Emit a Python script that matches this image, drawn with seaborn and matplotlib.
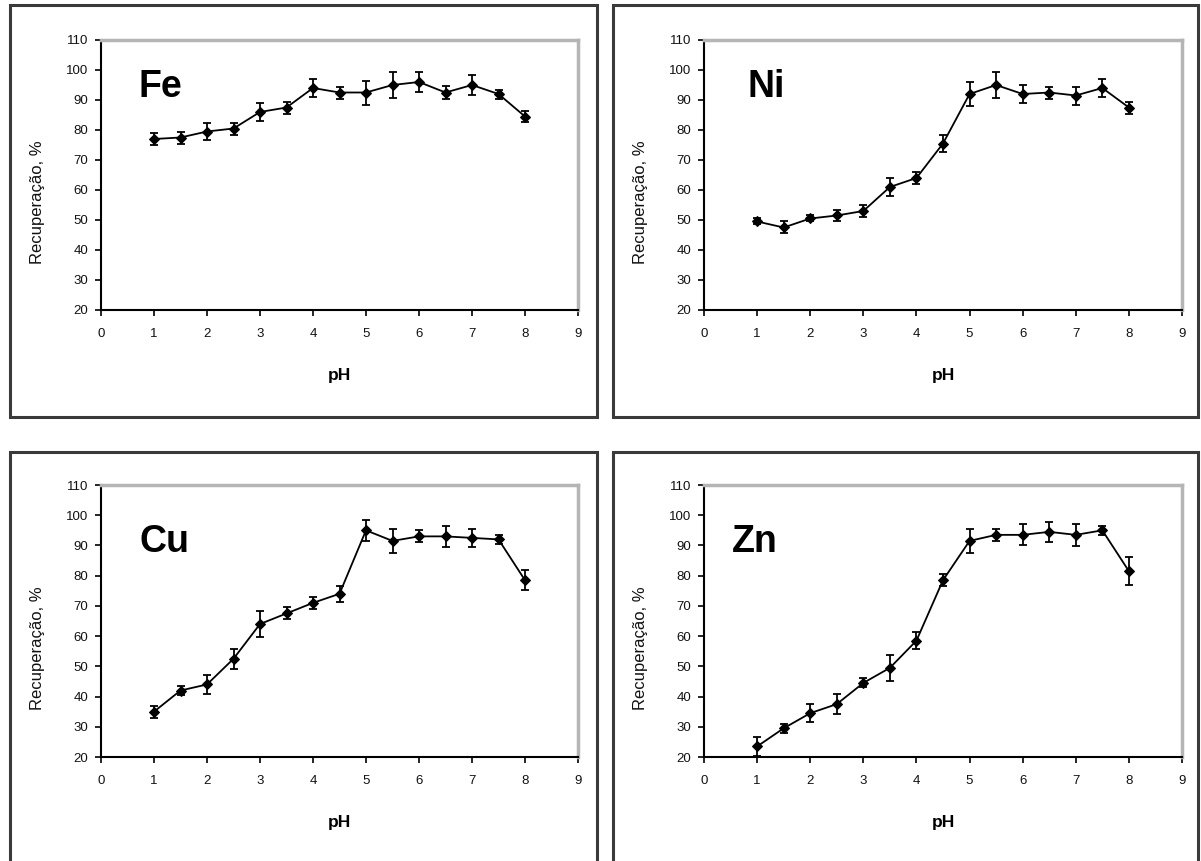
import matplotlib
matplotlib.use("Agg")
import matplotlib.pyplot as plt
from matplotlib.patches import Rectangle
import pandas as pd
import seaborn as sns

# DATA
ph = [1, 1.5, 2, 2.5, 3, 3.5, 4, 4.5, 5, 5.5, 6, 6.5, 7, 7.5, 8]

fe = [77, 77.5, 79.5, 80.5, 86, 87.5, 94, 92.5, 92.5, 95, 96, 92.5, 95, 92, 84.5]
fe_err = [2, 2, 2.7, 2, 3, 2, 3, 2, 4, 4.3, 3.2, 2.2, 3.2, 1.5, 1.8]

ni = [49.5, 47.5, 50.5, 51.5, 53, 61, 64, 75.5, 92, 95, 92, 92.5, 91.5, 94, 87.5]
ni_err = [1, 2, 1, 1.8, 2, 3, 2, 3, 4, 4.3, 3, 2, 3, 3, 2]

cu = [35, 42, 44, 52.5, 64, 67.5, 71, 74, 95, 91.5, 93, 93, 92.5, 92, 78.5]
cu_err = [2, 1.5, 3, 3.3, 4.4, 2, 2, 2.7, 3.4, 4, 2, 3.5, 3, 1.5, 3.4]

zn = [23.5, 29.5, 34.5, 37.5, 44.5, 49.5, 58.5, 78.5, 91.5, 93.5, 93.5, 94.5, 93.5, 95, 81.5]
zn_err = [3.2, 1.5, 3, 3.3, 1.5, 4.2, 2.8, 2, 3.9, 2, 3.5, 3.4, 3.6, 1.5, 4.6]

metals = ["Fe", "Ni", "Cu", "Zn"]
series = {"Fe": (fe, fe_err), "Ni": (ni, ni_err), "Cu": (cu, cu_err), "Zn": (zn, zn_err)}

x_ticks = list(range(0, 10))
y_ticks = list(range(20, 111, 10))

# STYLE
sns.set_style("ticks")
plt.rcParams["font.family"] = ["Liberation Sans", "DejaVu Sans"]

W, H = 1201, 861
fig = plt.figure(figsize=(W / 100, H / 100), dpi=100)

# panel layout in pixels: axes (left, top, right, bottom), frame (left, top, right, bottom), label pos
panels = {
    "Fe": dict(ax=(101, 40, 578, 310), frame=(10, 5, 597, 417), lab=(0.078, 0.79)),
    "Ni": dict(ax=(704, 40, 1182, 310), frame=(613, 5, 1198, 417), lab=(0.09, 0.79)),
    "Cu": dict(ax=(101, 485, 578, 757), frame=(10, 452, 597, 880), lab=(0.08, 0.754)),
    "Zn": dict(ax=(704, 485, 1182, 757), frame=(613, 452, 1198, 880), lab=(0.059, 0.754)),
}

for metal in metals:
    p = panels[metal]
    l, t, r, b = p["ax"]
    ax = fig.add_axes([l / W, 1 - b / H, (r - l) / W, (b - t) / H])

    # outer frame of each panel
    fl, ft, fr, fb = p["frame"]
    fig.patches.append(Rectangle((fl / W, 1 - fb / H), (fr - fl) / W, (fb - ft) / H,
                                 transform=fig.transFigure, fill=False,
                                 edgecolor="#3a3a3a", linewidth=2.2, zorder=0))

    vals, errs = series[metal]
    df = pd.DataFrame({"pH": ph, "rec": vals, "err": errs})
    ax.errorbar(df["pH"], df["rec"], yerr=df["err"], fmt="none", ecolor="black",
                elinewidth=1.3, capsize=3, capthick=1.3, zorder=2)
    sns.lineplot(data=df, x="pH", y="rec", ax=ax, color="black", linewidth=1.3,
                 marker="D", markersize=5, markeredgecolor="black", zorder=3)

    ax.set_xlim(0, 9)
    ax.set_ylim(20, 110)
    ax.set_xticks(x_ticks)
    ax.set_yticks(y_ticks)
    ax.tick_params(axis="both", direction="out", length=4, width=1.2, labelsize=9.5,
                   color="black", labelcolor="#111111")
    ax.tick_params(axis="x", pad=9)
    ax.tick_params(axis="y", pad=5)

    for side in ["left", "bottom"]:
        ax.spines[side].set_color("black")
        ax.spines[side].set_linewidth(1.5)
    for side in ["top", "right"]:
        ax.spines[side].set_color("#b5b5b5")
        ax.spines[side].set_linewidth(2.5)

    ax.set_xlabel("pH", fontsize=12.5, fontweight="bold", va="top", color="black")
    ax.xaxis.set_label_coords(0.5, -0.215)
    ax.set_ylabel("Recuperação, %", fontsize=12, color="#111111")
    ax.yaxis.set_label_coords(-0.117, 0.40)

    ax.text(p["lab"][0], p["lab"][1], metal, transform=ax.transAxes, color="black",
            fontsize=27, fontweight="bold", ha="left", va="baseline")

fig.savefig("out.png", dpi=100, facecolor="white")
